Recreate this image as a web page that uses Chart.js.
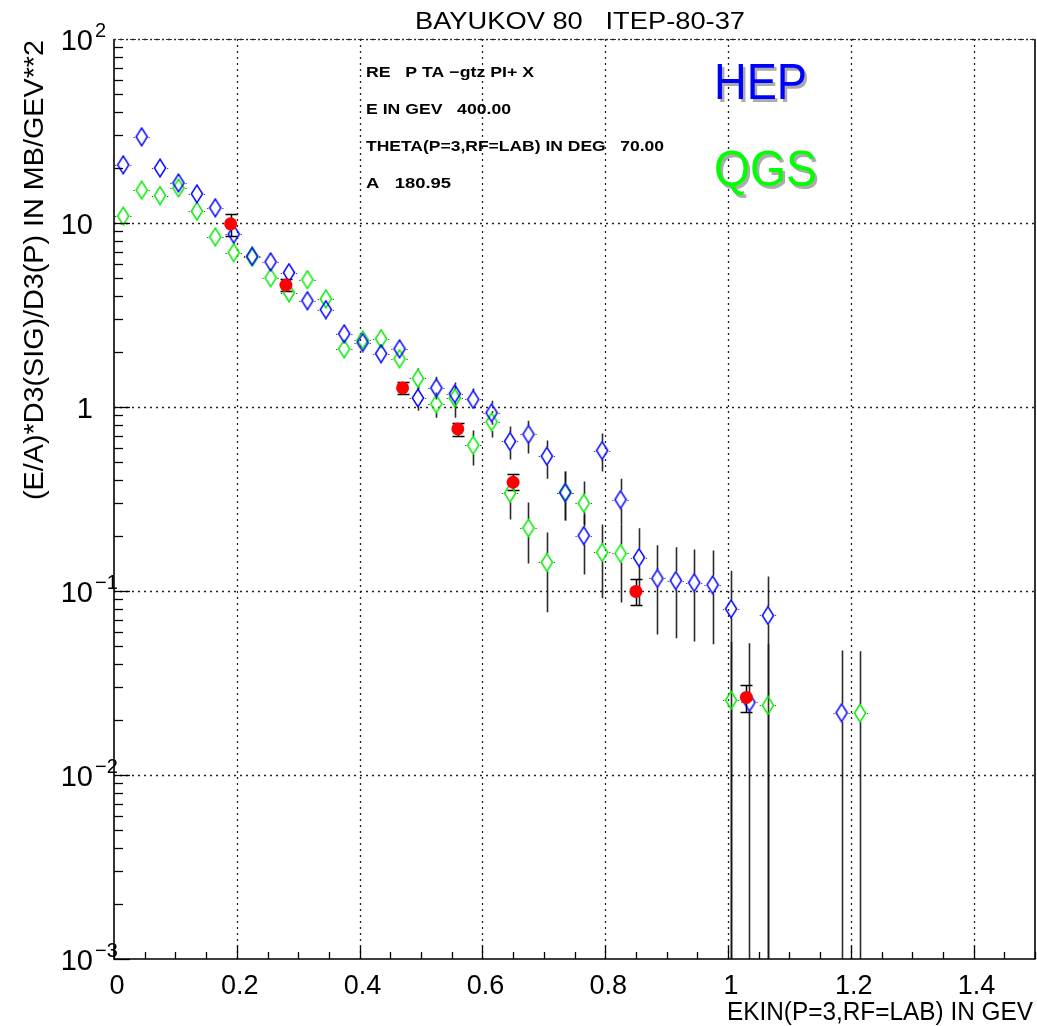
<!DOCTYPE html>
<html><head><meta charset="utf-8">
<script src="https://cdn.jsdelivr.net/npm/chart.js@4.4.0/dist/chart.umd.min.js"></script>
<style>html,body{margin:0;padding:0;background:#fff;overflow:hidden;} canvas{display:block;}</style>
</head><body>
<canvas id="c" width="1037" height="1026"></canvas>
<script>
// ---------------- DATA ----------------
const hepX  = [0.015,0.045,0.075,0.105,0.135,0.165,0.195,0.225,0.255,0.285,0.315,0.345,0.375,0.405,0.435,0.465,0.495,0.525,0.555,0.585,0.615,0.645,0.675,0.705,0.735,0.765,0.795,0.825,0.855,0.885,0.915,0.945,0.975,1.005,1.035,1.065,1.185];
const hepY  = [20.7,29.4,19.9,16.5,14.4,12.1,8.7,6.6,6.15,5.37,3.78,3.38,2.50,2.24,1.95,2.07,1.12,1.27,1.18,1.10,0.93,0.65,0.71,0.54,0.343,0.20,0.58,0.314,0.152,0.117,0.114,0.111,0.108,0.080,0.0248,0.0736,0.0218];
const hepLo = [null,null,null,null,null,null,null,null,null,null,null,null,null,null,null,1.85,0.955,1.10,1.0,0.98,0.80,0.518,0.558,0.408,0.242,0.123,0.446,0.23,0.0836,0.0581,0.0553,0.0532,0.0513,0,0,0,0];
const hepHi = [null,null,null,null,null,null,null,null,null,null,null,null,null,null,null,2.24,1.30,1.46,1.36,1.26,1.08,0.783,0.843,0.657,0.446,0.26,0.718,0.408,0.219,0.177,0.173,0.168,0.166,0.129,0.052,0.120,0.0475];

const qgsX  = [0.015,0.045,0.075,0.105,0.135,0.165,0.195,0.225,0.255,0.285,0.315,0.345,0.375,0.405,0.435,0.465,0.495,0.525,0.555,0.585,0.615,0.645,0.675,0.705,0.735,0.765,0.795,0.825,1.005,1.065,1.215];
const qgsY  = [10.9,15.1,14.1,15.5,11.6,8.4,6.9,6.5,5.04,4.18,4.92,3.87,2.07,2.32,2.35,1.83,1.43,1.04,1.12,0.62,0.83,0.34,0.22,0.143,0.343,0.30,0.162,0.160,0.0255,0.0239,0.0217];
const qgsLo = [null,null,null,null,null,null,null,null,null,null,null,null,null,null,null,1.65,1.25,0.875,0.875,0.481,0.682,0.245,0.141,0.0766,0.242,0.23,0.0912,0.0867,0,0,0];
const qgsHi = [null,null,null,null,null,null,null,null,null,null,null,null,null,null,null,2.0,1.62,1.20,1.30,0.745,0.95,0.398,0.303,0.208,0.446,0.394,0.230,0.23,0.053,0.0513,0.047];

const expX  = [0.19,0.28,0.47,0.56,0.65,0.85,1.03];
const expY  = [9.9,4.6,1.27,0.76,0.39,0.0995,0.0264];
const expLo = [8.5,4.28,1.17,0.70,0.356,0.0836,0.0219];
const expHi = [11.2,4.98,1.37,0.82,0.43,0.1156,0.0307];

const xErr = 0.015;

const xTickValues = [0,0.2,0.4,0.6,0.8,1.0,1.2,1.4];
const xTickLabels = ['0','0.2','0.4','0.6','0.8','1','1.2','1.4'];
const xMinorStep = 0.05;
const yTickValues = [100,10,1,0.1,0.01,0.001];
const yTickBase   = ['10','10','1','10','10','10'];
const yTickExp    = ['2','','','\u22121','\u22122','\u22123'];

const titleText = 'BAYUKOV 80   ITEP-80-37';
const infoLines = ['RE   P TA \u2212gtz PI+ X','E IN GEV   400.00','THETA(P=3,RF=LAB) IN DEG   70.00','A   180.95'];
const xTitle = 'EKIN(P=3,RF=LAB) IN GEV';
const yTitle = '(E/A)*D3(SIG)/D3(P) IN MB/GEV**2';
const legendHEP = 'HEP';
const legendQGS = 'QGS';

// ---------------- STYLES ----------------
const BLUE = 'rgb(0,0,255)';
const GREEN = 'rgb(0,235,0)';
const RED = 'rgb(255,0,0)';
const FONT = '"Liberation Sans", Arial, sans-serif';

function diamond(color){
  const c = document.createElement('canvas');
  c.width = 14; c.height = 20;
  const g = c.getContext('2d');
  g.strokeStyle = color; g.lineWidth = 1.5;
  g.beginPath();
  g.moveTo(7,1.2); g.lineTo(12.6,10); g.lineTo(7,18.8); g.lineTo(1.4,10); g.closePath();
  g.stroke();
  return c;
}

function toPts(xs, ys){ return xs.map((x,i)=>({x:x, y:ys[i]})); }

function drawFitted(ctx, text, x, y, width, font, align){
  ctx.save();
  ctx.font = font;
  const w = ctx.measureText(text).width;
  const s = width / w;
  ctx.translate(x, y);
  ctx.scale(s, 1);
  ctx.textAlign = 'left';
  let ox = 0;
  if (align === 'center') ox = -w/2;
  else if (align === 'right') ox = -w;
  ctx.fillText(text, ox, 0);
  ctx.restore();
}

const rootPlugin = {
  id: 'rootStyle',
  beforeDatasetsDraw(chart){
    const ctx = chart.ctx, xs = chart.scales.x, ys = chart.scales.y, a = chart.chartArea;
    ctx.save();
    ctx.strokeStyle = '#222'; ctx.lineWidth = 1.3; ctx.setLineDash([2,4]);
    xTickValues.forEach(v=>{ if (v<=0) return; const px = Math.round(xs.getPixelForValue(v))+0.5;
      ctx.beginPath(); ctx.moveTo(px, a.top); ctx.lineTo(px, a.bottom); ctx.stroke(); });
    yTickValues.forEach(v=>{ if (v<=ys.min) return; const py = Math.round(ys.getPixelForValue(v))+0.5;
      ctx.beginPath(); ctx.moveTo(a.left, py); ctx.lineTo(a.right, py); ctx.stroke(); });
    ctx.setLineDash([]);
    const yb = v => ys.getPixelForValue(Math.max(v, ys.min));
    function modelBars(X, Y, LO, HI){
      ctx.strokeStyle = 'rgba(20,20,20,0.9)'; ctx.lineWidth = 1.6; ctx.setLineDash([]);
      X.forEach((x,i)=>{
        if (HI[i]===null) return;
        const px = Math.round(xs.getPixelForValue(x))+0.5, py = ys.getPixelForValue(Y[i]);
        const ph = yb(HI[i]), pl = yb(LO[i]);
        ctx.beginPath();
        if (ph < py-9) { ctx.moveTo(px, py-9); ctx.lineTo(px, ph); }
        if (pl > py+9) { ctx.moveTo(px, py+9); ctx.lineTo(px, Math.min(pl, a.bottom)); }
        ctx.stroke();
      });
      ctx.strokeStyle = '#444'; ctx.lineWidth = 1.2; ctx.setLineDash([1.2,2.2]);
      X.forEach((x,i)=>{
        const px = xs.getPixelForValue(x), py = Math.round(ys.getPixelForValue(Y[i]))+0.5;
        const dl = xs.getPixelForValue(x-xErr), dr = xs.getPixelForValue(x+xErr);
        ctx.beginPath();
        ctx.moveTo(px-7, py); ctx.lineTo(dl-1, py);
        ctx.moveTo(px+7, py); ctx.lineTo(dr+1, py);
        ctx.stroke();
      });
      ctx.setLineDash([]);
    }
    modelBars(hepX, hepY, hepLo, hepHi);
    modelBars(qgsX, qgsY, qgsLo, qgsHi);
    ctx.strokeStyle = '#000'; ctx.lineWidth = 1.5;
    expX.forEach((x,i)=>{
      const px = Math.round(xs.getPixelForValue(x))+0.5;
      const ph = Math.round(yb(expHi[i]))+0.5, pl = Math.round(yb(expLo[i]))+0.5;
      ctx.beginPath();
      ctx.moveTo(px, ph); ctx.lineTo(px, pl);
      ctx.moveTo(px-6, ph); ctx.lineTo(px+6, ph);
      ctx.moveTo(px-6, pl); ctx.lineTo(px+6, pl);
      ctx.stroke();
    });
    ctx.restore();
  },
  afterDatasetsDraw(chart){
    const ctx = chart.ctx, xs = chart.scales.x, ys = chart.scales.y, a = chart.chartArea;
    ctx.save();
    ctx.strokeStyle = '#000'; ctx.lineWidth = 1.6;
    ctx.beginPath();
    ctx.moveTo(a.left, a.top); ctx.lineTo(a.left, a.bottom); ctx.lineTo(a.right, a.bottom); ctx.lineTo(a.right, a.top);
    ctx.stroke();
    ctx.setLineDash([2,2]); ctx.lineWidth = 1.2; ctx.strokeStyle = '#333';
    ctx.beginPath(); ctx.moveTo(a.left, a.top+0.5); ctx.lineTo(a.right, a.top+0.5); ctx.stroke();
    ctx.setLineDash([]);
    ctx.strokeStyle = '#000'; ctx.lineWidth = 1.3;
    const nMinor = Math.round((xs.max - xs.min)/xMinorStep);
    for (let k=0;k<=nMinor;k++){
      const v = xs.min + k*xMinorStep;
      const major = Math.abs(v/0.2 - Math.round(v/0.2)) < 1e-6;
      const px = Math.round(xs.getPixelForValue(v))+0.5;
      ctx.beginPath(); ctx.moveTo(px, a.bottom); ctx.lineTo(px, a.bottom - (major?13:7)); ctx.stroke();
    }
    for (let e=-3;e<2;e++){
      for (let m=1;m<=9;m++){
        const v = m*Math.pow(10,e);
        const py = Math.round(ys.getPixelForValue(v))+0.5;
        ctx.beginPath(); ctx.moveTo(a.left, py); ctx.lineTo(a.left + (m===1?16:9), py); ctx.stroke();
      }
    }
    ctx.fillStyle = '#000'; ctx.textBaseline = 'alphabetic';
    ctx.font = '27px ' + FONT;
    xTickValues.forEach((v,i)=>{
      const px = xs.getPixelForValue(v);
      ctx.textAlign = 'center';
      ctx.fillText(xTickLabels[i], px + 3, a.bottom + 35);
    });
    yTickValues.forEach((v,i)=>{
      const py = ys.getPixelForValue(v);
      ctx.font = '29px ' + FONT; ctx.textAlign = 'right';
      ctx.fillText(yTickBase[i], 93, py + 11);
      if (yTickExp[i]) {
        ctx.font = '20px ' + FONT; ctx.textAlign = 'left';
        ctx.fillText(yTickExp[i], 95, py - 2);
      }
    });
    ctx.fillStyle = '#000';
    drawFitted(ctx, xTitle, 1033, 1020, 306, '26px ' + FONT, 'right');
    ctx.save();
    ctx.translate(43, 40);
    ctx.rotate(-Math.PI/2);
    drawFitted(ctx, yTitle, 0, 0, 460, '27px ' + FONT, 'right');
    ctx.restore();
    drawFitted(ctx, titleText, 415, 29, 330, '23px ' + FONT, 'left');
    const infoW = [168, 145, 298, 85];
    const infoY = [77, 114, 151, 188];
    infoLines.forEach((t,i)=> drawFitted(ctx, t, 366, infoY[i], infoW[i], 'bold 15px ' + FONT, 'left'));
    function shadowText(t, x, y, w, col){
      ctx.fillStyle = 'rgba(150,150,150,0.8)';
      drawFitted(ctx, t, x+2.5, y+2.5, w, '50px ' + FONT, 'left');
      ctx.fillStyle = col;
      drawFitted(ctx, t, x, y, w, '50px ' + FONT, 'left');
    }
    shadowText(legendHEP, 714, 99, 93, BLUE);
    shadowText(legendQGS, 714, 186, 103, 'rgb(0,255,0)');
    ctx.restore();
  }
};

new Chart(document.getElementById('c'), {
  type: 'scatter',
  data: {
    datasets: [
      { label: 'data', data: toPts(expX, expY), pointStyle: 'circle', pointRadius: 6.5, pointBackgroundColor: RED, pointBorderColor: RED, pointBorderWidth: 0, showLine: false },
      { label: 'HEP', data: toPts(hepX, hepY), pointStyle: diamond(BLUE), pointRadius: 9, showLine: false },
      { label: 'QGS', data: toPts(qgsX, qgsY), pointStyle: diamond(GREEN), pointRadius: 9, showLine: false }
    ]
  },
  options: {
    responsive: false,
    animation: false,
    events: [],
    layout: { autoPadding: false, padding: { top: 39, right: 2, left: 0, bottom: 0 } },
    plugins: { legend: { display: false }, tooltip: { enabled: false }, title: { display: false } },
    scales: {
      x: { type: 'linear', min: 0, max: 1.5, ticks: { display: false }, grid: { display: false }, border: { display: false },
           afterFit(s){ s.height = 67; } },
      y: { type: 'logarithmic', min: 0.001, max: 100, ticks: { display: false }, grid: { display: false }, border: { display: false },
           afterFit(s){ s.width = 114; } }
    }
  },
  plugins: [rootPlugin]
});
</script>
</body></html>
